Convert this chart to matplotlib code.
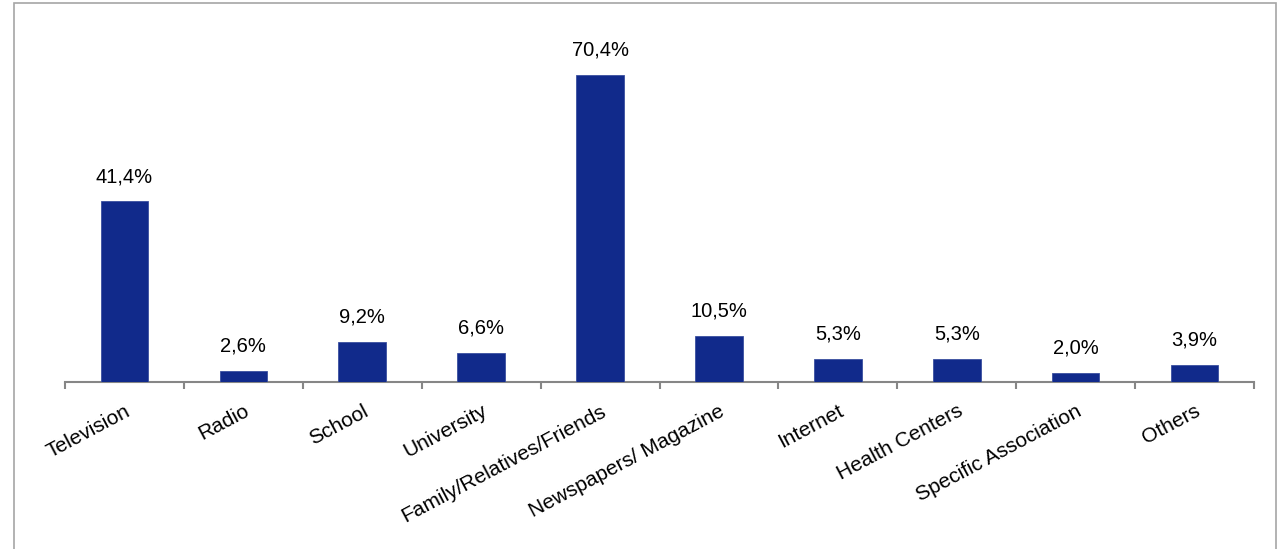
import matplotlib; matplotlib.use('Agg')
import matplotlib.pyplot as plt
from matplotlib.patches import Rectangle
import numpy as np

plt.rcParams['font.family'] = ['Liberation Sans', 'DejaVu Sans']

categories = ['Television', 'Radio', 'School', 'University', 'Family/Relatives/Friends',
              'Newspapers/ Magazine', 'Internet', 'Health Centers', 'Specific Association', 'Others']
values = [41.4, 2.6, 9.2, 6.6, 70.4, 10.5, 5.3, 5.3, 2.0, 3.9]

BAR = '#112a8b'
AXC = '#868686'

W, H = 1279, 549
fig = plt.figure(figsize=(W / 100, H / 100), dpi=100)
ax = fig.add_axes([65 / W, 1 - 382 / H, (1254 - 65) / W, (382 - 33) / H])

x = np.arange(len(categories))
ax.bar(x, values, width=0.4, color=BAR, edgecolor='#3a4fa0', linewidth=0.6, zorder=3)
for xi, v in zip(x, values):
    ax.annotate(f'{v:.1f}%'.replace('.', ','), (xi, v), xytext=(0, 11),
                textcoords='offset points', ha='center', va='bottom', fontsize=14.5)

ax.set_xlim(-0.5, len(categories) - 0.5)
ax.set_ylim(0, 80)
for s in ('left', 'top', 'right'):
    ax.spines[s].set_visible(False)
ax.spines['bottom'].set_color(AXC)
ax.spines['bottom'].set_linewidth(1.5)
ax.set_yticks([])

# tick marks between categories, labels at centres
ax.set_xticks(np.arange(-0.5, len(categories)), labels=[''] * (len(categories) + 1))
ax.tick_params(axis='x', which='major', length=5, width=1.5, color=AXC, direction='out')
ax.set_xticks(x, labels=categories, minor=True)
ax.tick_params(axis='x', which='minor', length=0, pad=14, labelsize=15)
for lbl in ax.get_xticklabels(minor=True):
    lbl.set_rotation(28)
    lbl.set_ha('right')
    lbl.set_va('top')
    lbl.set_rotation_mode('anchor')

fig.add_artist(Rectangle((14 / W, -0.05), (1276 - 14) / W, 1.05 - 3 / H,
                         transform=fig.transFigure, fill=False,
                         edgecolor='#a6a6a6', linewidth=1.2))

fig.savefig('out.png', dpi=100)
